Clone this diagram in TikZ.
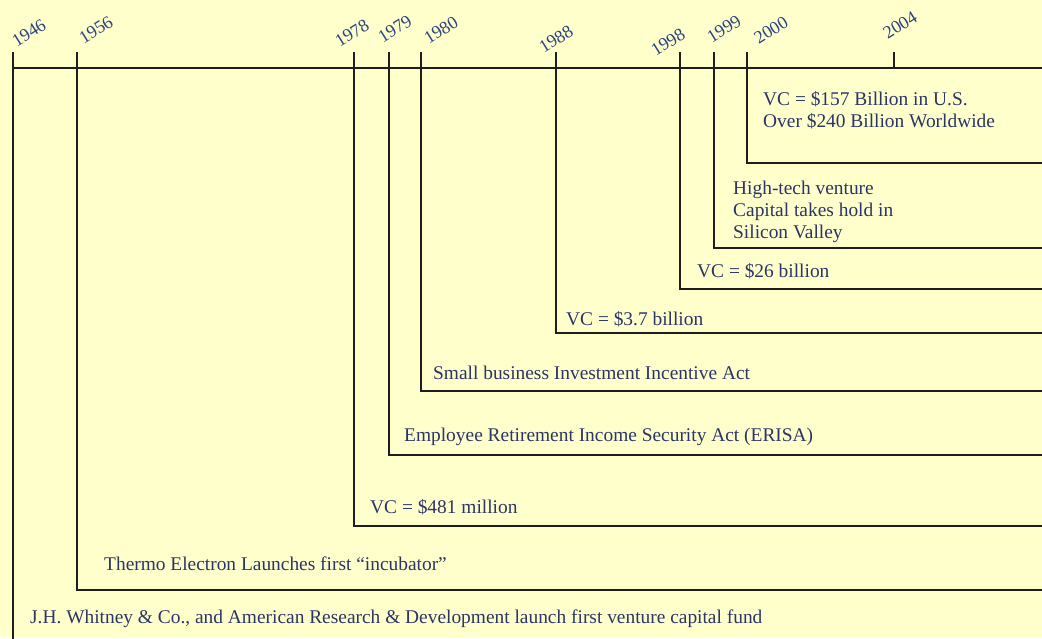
\documentclass[tikz,border=0pt]{standalone}
\usepackage{fontspec}
\setmainfont{Liberation Serif}
\usepackage{tikz}
\usetikzlibrary{positioning}
\definecolor{tlbg}{HTML}{FFFFCC}
\definecolor{tlink}{HTML}{2B3566}
\definecolor{tlyear}{HTML}{2A4480}
\definecolor{tlline}{HTML}{1E1E1E}

\begin{document}
\begin{tikzpicture}[
  x=1pt, y=-1pt,
  year/.style={
    rotate=32, inner sep=0pt,
    font=\fontsize{18}{20}\selectfont, text=tlyear
  },
  event/.style={
    anchor=base west, inner sep=0pt, align=left,
    font=\fontsize{19.4}{22}\selectfont, text=tlink
  },
  tl/.style={line width=1.4pt, draw=tlline},
]
\fill[tlbg] (0,0) rectangle (1042,638);
\useasboundingbox (0,0) rectangle (1042,638);

% Axe du temps
\coordinate (axisL) at (13,68);
\coordinate (axisR) at (1042,68);
\draw[tl] (axisL) -- (axisR);

% Annees
\foreach \yr/\x/\lx/\ly in {1946/13/29/33, 1956/77/96/30, 1978/354/352/33,
    1979/389/395/29, 1980/421/441/30, 1988/556/556/39, 1998/680/668/42,
    1999/714/724/29, 2000/747/771/30, 2004/894/900/25} {
  \coordinate (tick\yr) at (\x,52);
  \node[year] (lbl\yr) at (\lx,\ly) {\yr};
}
\coordinate (foot2004) at (894,68);
\draw[tl] (tick2004) -- (foot2004);

% Lignes des evenements
\foreach \yr/\y in {2000/163, 1999/248, 1998/289, 1988/333, 1980/391,
    1979/455, 1978/526, 1956/590} {
  \coordinate (end\yr) at (1042,\y);
  \draw[tl] (tick\yr) |- (end\yr);
}
\coordinate (end1946) at (13,640);
\draw[tl] (tick1946) -- (end1946);

% Evenements
\node[event] (ev2000) at (763,127) {VC = \$157 Billion in U.S.\\Over \$240 Billion Worldwide};
\node[event] (ev1999) at (733,238) {High-tech venture\\Capital takes hold in\\Silicon Valley};
\node[event] (ev1998) at (697,277) {VC = \$26 billion};
\node[event] (ev1988) at (566,325) {VC = \$3.7 billion};
\node[event] (ev1980) at (433,379) {Small business Investment Incentive Act};
\node[event] (ev1979) at (404,441) {Employee Retirement Income Security Act (ERISA)};
\node[event] (ev1978) at (370,513) {VC = \$481 million};
\node[event] (ev1956) at (104,570) {Thermo Electron Launches first ``incubator''};
\node[event] (ev1946) at (30,623) {J.H. Whitney \& Co., and American Research \& Development launch first venture capital fund};

\end{tikzpicture}
\end{document}
